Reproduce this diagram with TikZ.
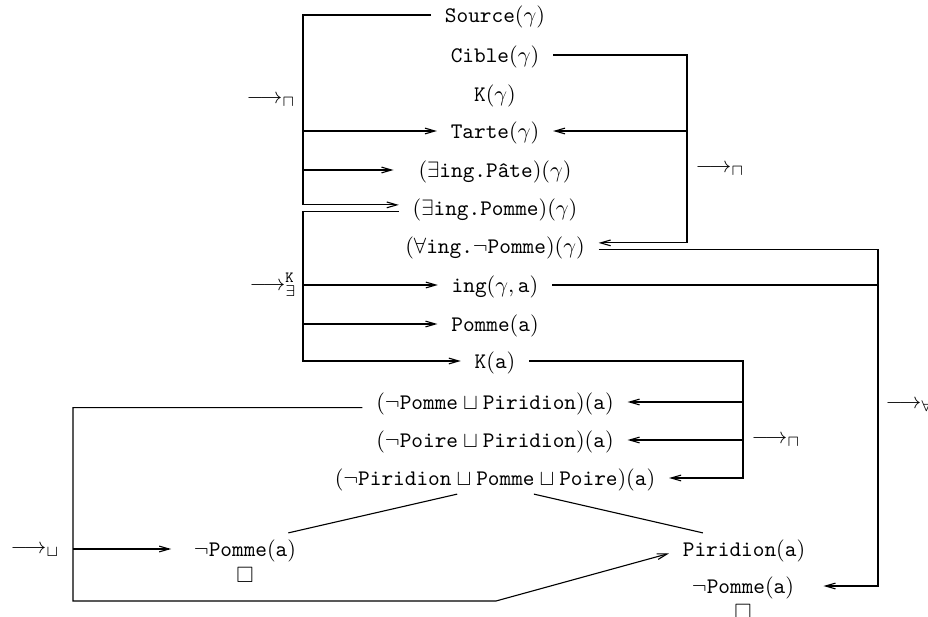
\documentclass[tikz,border=0pt]{standalone}
\usepackage{amsmath,amssymb}
\usetikzlibrary{arrows.meta,positioning}

\begin{document}
\begin{tikzpicture}[x=0.45pt,y=-0.45pt,line width=0.5pt,
    ar/.style={-{Straight Barb[length=4.5pt,width=2.6pt]}},
    lit/.style={inner xsep=6pt,inner ysep=2pt,text height=8.5pt,text depth=1.5pt},
    rul/.style={inner sep=0pt,anchor=west}]
\useasboundingbox (0,0) rectangle (928,617);

% assertions on gamma
\node[lit] (src) at (495,15)  {$\texttt{Source}(\gamma)$};
\node[lit] (cib) at (495,55)  {$\texttt{Cible}(\gamma)$};
\node[lit] (kg)  at (495,94)  {$\texttt{K}(\gamma)$};
\node[lit] (tar) at (495,131) {$\texttt{Tarte}(\gamma)$};
\node[lit] (ep)  at (495,170) {$(\exists\texttt{ing.Pâte})(\gamma)$};
\node[lit] (eq)  at (495,208) {$(\exists\texttt{ing.Pomme})(\gamma)$};
\node[lit] (fa)  at (495,246) {$(\forall\texttt{ing.}\neg\texttt{Pomme})(\gamma)$};
% assertions on a
\node[lit] (ing) at (495,285) {$\texttt{ing}(\gamma,\texttt{a})$};
\node[lit] (pa)  at (495,324) {$\texttt{Pomme}(\texttt{a})$};
\node[lit] (ka)  at (495,361) {$\texttt{K}(\texttt{a})$};
\node[lit] (d1)  at (495,402) {$(\neg\texttt{Pomme}\sqcup\texttt{Piridion})(\texttt{a})$};
\node[lit] (d2)  at (495,440) {$(\neg\texttt{Poire}\sqcup\texttt{Piridion})(\texttt{a})$};
\node[lit] (d3)  at (495,478) {$(\neg\texttt{Piridion}\sqcup\texttt{Pomme}\sqcup\texttt{Poire})(\texttt{a})$};
% the two branches
\node[lit] (np)  at (245,549) {$\neg\texttt{Pomme}(\texttt{a})$};
\node[lit] (pi)  at (744,549) {$\texttt{Piridion}(\texttt{a})$};
\node[lit] (nq)  at (743,586) {$\neg\texttt{Pomme}(\texttt{a})$};
\node[inner sep=0pt,below=1pt of np] (xl) {$\square$};
\node[inner sep=0pt,below=1pt of nq] (xr) {$\square$};

% rule labels
\node[rul] (r1) at (246,101) {$\longrightarrow_{\sqcap}$};
\node[rul] (r2) at (695,170) {$\longrightarrow_{\sqcap}$};
\node[rul] (r3) at (249,285) {$\longrightarrow_{\exists}^{\texttt{K}}$};
\node[rul] (r4) at (751,441) {$\longrightarrow_{\sqcap}$};
\node[rul] (r5) at (10,551)  {$\longrightarrow_{\sqcup}$};
\node[rul] (r6) at (885,406) {$\longrightarrow_{\forall}$};

% spines
\coordinate (v1) at (303,0);
\coordinate (v2) at (687,0);
\coordinate (v3) at (878,0);
\coordinate (v4) at (743,0);
\coordinate (v5) at (73,601);
\coordinate (bk) at (496,601);
\coordinate (eqin)  at ([yshift=1.4pt]eq.west);
\coordinate (eqout) at ([yshift=-1.4pt]eq.west);
\coordinate (fain)  at ([yshift=1.4pt]fa.east);
\coordinate (faout) at ([yshift=-1.4pt]fa.east);

% sqcap on Source
\draw[ar] (src.west) -| (v1 |- eqin) -- (eqin);
\draw[ar] (v1 |- tar) -- (tar.west);
\draw[ar,shorten >=5pt] (v1 |- ep) -- (ep.west);
% sqcap on Cible
\draw[ar] (cib.east) -| (v2 |- fain) -- (fain);
\draw[ar] (v2 |- tar) -- (tar.east);
% exists
\draw[ar] (eqout) -| (v1 |- ka) -- (ka.west);
\draw[ar] (v1 |- ing) -- (ing.west);
\draw[ar] (v1 |- pa) -- (pa.west);
% forall
\draw[ar,shorten >=7pt] (faout) -| (v3 |- nq) -- (nq.east);
\draw (ing.east) -- (v3 |- ing);
% sqcap on K(a)
\draw[ar] (ka.east) -| (v4 |- d3) -- (d3.east);
\draw[ar] (v4 |- d1) -- (d1.east);
\draw[ar] (v4 |- d2) -- (d2.east);
% sqcup
\draw[ar] ([yshift=-2.5pt]d1.west) -| (v5) -- (bk) -- ([yshift=-2pt]pi.west);
\draw[ar,shorten >=4pt] (v5 |- np) -- (np.west);
\draw ([xshift=-17pt]d3.south) -- ([xshift=19.5pt]np.north);
\draw ([xshift=17.5pt]d3.south) -- ([xshift=-18.5pt]pi.north);
\end{tikzpicture}
\end{document}
